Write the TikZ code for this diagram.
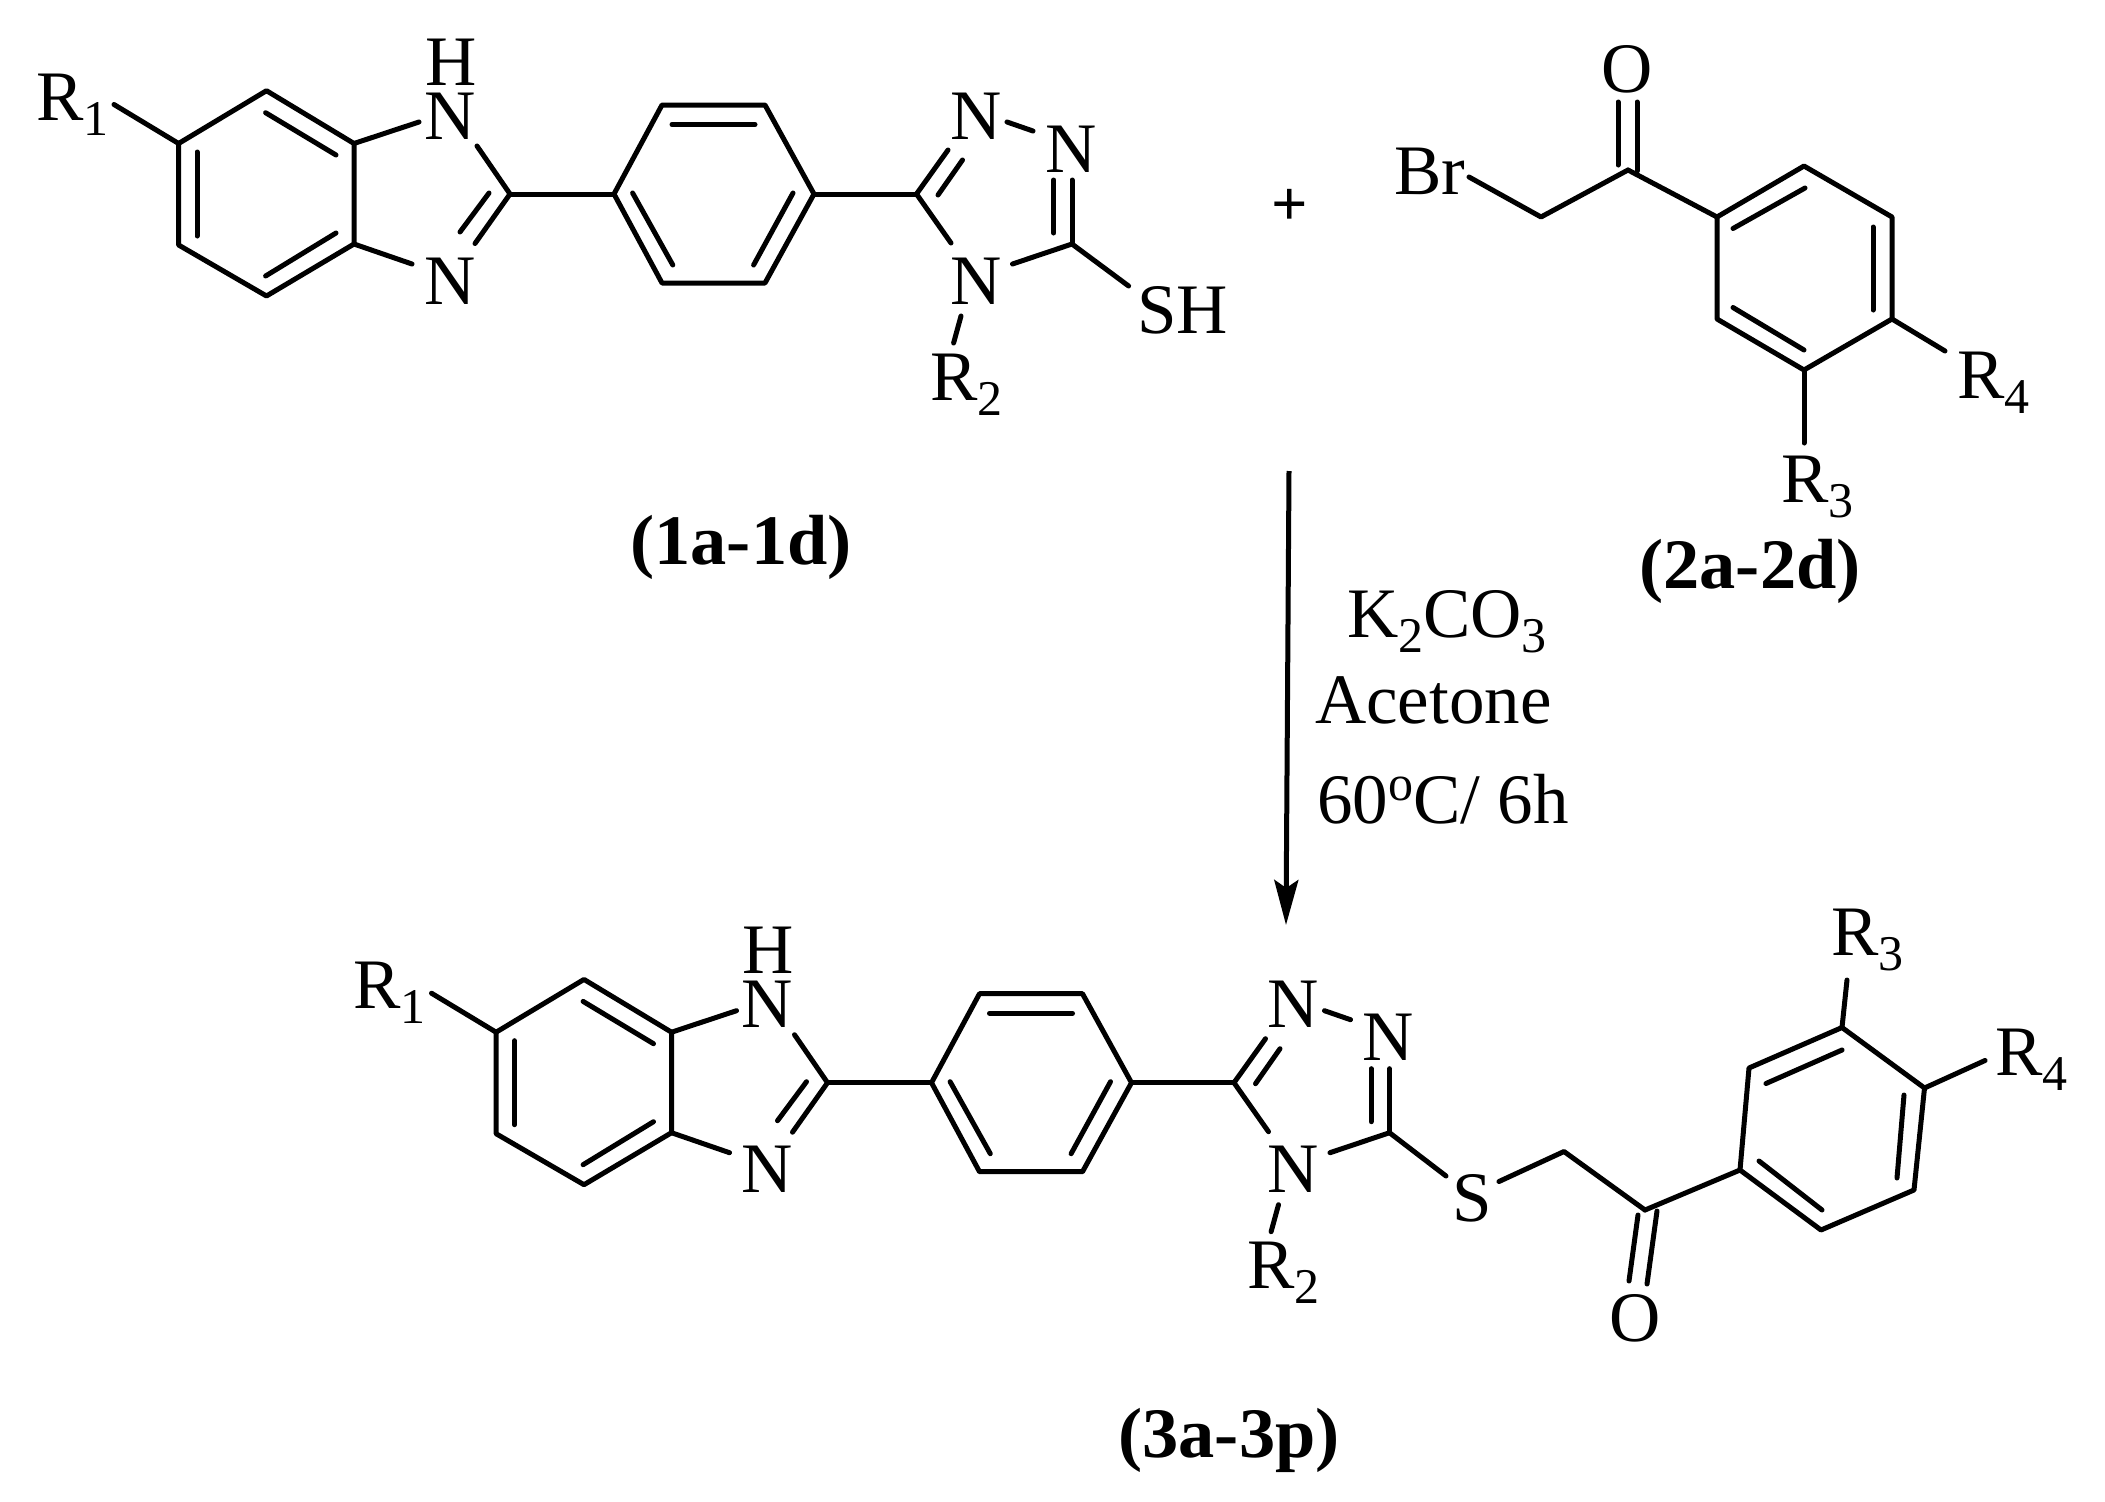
\documentclass[tikz,border=0pt]{standalone}
\usepackage{fontspec}
\setmainfont{Liberation Serif}
\usetikzlibrary{arrows.meta}
\newcommand\mkpt[3]{\coordinate (#1) at (#2,#3);}
\newcommand\bd[2]{\draw[bondline] (#1) -- (#2);}
\newcommand\subtxt[1]{\raisebox{-15pt}{\fontsize{50}{50}\selectfont #1}}
\newcommand\Rsub[1]{R\subtxt{#1}}
\tikzset{
  bondline/.style={line width=5pt,line cap=round,line join=round,black},
  atom/.style={inner sep=0pt,outer sep=0pt,anchor=base,font=\fontsize{71}{80}\selectfont,text=black},
  atomw/.style={atom,anchor=base west},
  cmpd/.style={inner sep=0pt,outer sep=0pt,anchor=base,font=\fontsize{71}{80}\selectfont\bfseries,text=black},
}
% Shared benzimidazole-phenylene-triazole skeleton; #1 is a name prefix
\newcommand\corepart[1]{%
  \mkpt{#1a1}{178.6}{143.5}\mkpt{#1a2}{266.5}{90.7}\mkpt{#1a3}{354}{143.5}
  \mkpt{#1a4}{354}{244}\mkpt{#1a5}{266.5}{296}\mkpt{#1a6}{178.6}{245}
  \draw[bondline] (#1a1)--(#1a2)--(#1a3)--(#1a4)--(#1a5)--(#1a6)--cycle;
  \mkpt{#1i1}{197}{152}\mkpt{#1i2}{197}{236}\bd{#1i1}{#1i2}
  \mkpt{#1i3}{265.6}{112.7}\mkpt{#1i4}{336}{155}\bd{#1i3}{#1i4}
  \mkpt{#1i5}{265.6}{276}\mkpt{#1i6}{336}{233}\bd{#1i5}{#1i6}
  \node[atomw] (#1R1) at (36,120) {\Rsub{1}};
  \mkpt{#1r1e}{114}{104.5}\bd{#1r1e}{#1a1}
  \node[atom] (#1H) at (451,85) {H};
  \node[atom] (#1NH) at (450,139) {N};
  \node[atom] (#1Nb) at (450,304) {N};
  \mkpt{#1e1}{419}{122}\bd{#1a3}{#1e1}
  \mkpt{#1e2}{412}{264}\bd{#1a4}{#1e2}
  \mkpt{#1c2}{510}{194}
  \mkpt{#1e3}{477}{146}\bd{#1e3}{#1c2}
  \mkpt{#1e4}{475}{243.5}\bd{#1e4}{#1c2}
  \mkpt{#1e5}{460}{232}\mkpt{#1e6}{489}{193}\bd{#1e5}{#1e6}
  \mkpt{#1p1}{614}{194}\mkpt{#1p2}{662}{105}\mkpt{#1p3}{765}{105}
  \mkpt{#1p4}{814}{194}\mkpt{#1p5}{765}{283}\mkpt{#1p6}{662}{283}
  \bd{#1c2}{#1p1}
  \draw[bondline] (#1p1)--(#1p2)--(#1p3)--(#1p4)--(#1p5)--(#1p6)--cycle;
  \mkpt{#1j1}{672}{124.5}\mkpt{#1j2}{755}{124.5}\bd{#1j1}{#1j2}
  \mkpt{#1j3}{793}{193}\mkpt{#1j4}{753.6}{265}\bd{#1j3}{#1j4}
  \mkpt{#1j5}{632.6}{193}\mkpt{#1j6}{672.8}{265}\bd{#1j5}{#1j6}
  \mkpt{#1t1}{916.5}{194}\bd{#1p4}{#1t1}
  \node[atom] (#1N1) at (976,139) {N};
  \node[atom] (#1N2) at (1071,172) {N};
  \node[atom] (#1N3) at (976,304) {N};
  \mkpt{#1k1}{948}{150}\bd{#1t1}{#1k1}
  \mkpt{#1k2}{938}{195}\mkpt{#1k3}{962.5}{160}\bd{#1k2}{#1k3}
  \mkpt{#1k4}{1007}{122}\mkpt{#1k5}{1033}{131}\bd{#1k4}{#1k5}
  \mkpt{#1t2}{1072}{244}\mkpt{#1k6}{1072}{180}\bd{#1k6}{#1t2}
  \mkpt{#1k7}{1053.6}{180}\mkpt{#1k8}{1053.6}{233}\bd{#1k7}{#1k8}
  \mkpt{#1k9}{1012.5}{264}\bd{#1t2}{#1k9}
  \mkpt{#1k10}{951}{243}\bd{#1t1}{#1k10}
  \mkpt{#1k11}{961}{316}\mkpt{#1k12}{953.6}{343}\bd{#1k11}{#1k12}
  \node[atomw] (#1R2) at (930,400) {\Rsub{2}};
}
\begin{document}
\begin{tikzpicture}[x=1pt,y=-1pt]
\useasboundingbox (0,0) rectangle (2105,1502);
\fill[white] (0,0) rectangle (2105,1502);

% Compound 1
\corepart{A}
\mkpt{sh}{1128.6}{286}\bd{At2}{sh}
\node[atomw] (SH) at (1137,333) {SH};
\node[cmpd] (lab1) at (741,564) {\scalebox{1.02}[1]{(1a-1d)}};

% plus
\node[inner sep=0pt,font=\fontsize{64}{64}\selectfont\bfseries] (plus) at (1290,207) {+};

% Compound 2
\node[atom] (O2) at (1627,92) {O};
\node[atomw] (Br) at (1394,194) {Br};
\mkpt{co}{1628}{170}
\mkpt{o1}{1618}{102}\mkpt{o1b}{1618}{165}\bd{o1}{o1b}
\mkpt{o2}{1637}{102}\mkpt{o2b}{1637}{171}\bd{o2}{o2b}
\mkpt{ch}{1541}{217}\mkpt{bre}{1469}{177}
\draw[bondline] (bre)--(ch)--(co);
\mkpt{b1}{1717}{217}\mkpt{b2}{1804}{166}\mkpt{b3}{1892}{217}
\mkpt{b4}{1892}{319}\mkpt{b5}{1804}{370}\mkpt{b6}{1717}{319}
\bd{co}{b1}
\draw[bondline] (b1)--(b2)--(b3)--(b4)--(b5)--(b6)--cycle;
\mkpt{bi1}{1733}{228.5}\mkpt{bi2}{1805}{188}\bd{bi1}{bi2}
\mkpt{bi3}{1873}{227}\mkpt{bi4}{1873}{310}\bd{bi3}{bi4}
\mkpt{bi5}{1733}{307.5}\mkpt{bi6}{1804}{350}\bd{bi5}{bi6}
\mkpt{r4e}{1945}{351}\bd{b4}{r4e}
\mkpt{r3e}{1804}{443}\bd{b5}{r3e}
\node[atomw] (R4a) at (1957,398) {\Rsub{4}};
\node[atomw] (R3a) at (1781,502) {\Rsub{3}};
\node[cmpd] (lab2) at (1750,588) {\scalebox{1.02}[1]{(2a-2d)}};

% Reaction arrow
\mkpt{arrtop}{1289}{471}\mkpt{arrtip}{1286}{925}
\draw[line width=5pt,-{Stealth[length=45pt,width=24pt,inset=8pt]}] (arrtop)--(arrtip);
\node[atomw] (reag1) at (1347,637) {K\subtxt{2}CO\subtxt{3}};
\node[atomw] (reag2) at (1315,723) {Acetone};
\node[atomw] (reag3) at (1317,823) {60\raisebox{23pt}{\fontsize{50}{50}\selectfont o}C/ 6h};

% Compound 3
\begin{scope}[shift={(317.5,888.7)}]
\corepart{B}
\end{scope}
\node[atom] (S) at (1472,1221) {S};
\mkpt{s1}{1446}{1176}\bd{Bt2}{s1}
\mkpt{s2}{1499}{1181.5}\mkpt{ch3}{1564}{1151.5}\mkpt{co3}{1645}{1210}
\draw[bondline] (s2)--(ch3)--(co3);
\mkpt{d1}{1657}{1211}\mkpt{d2}{1647}{1284}\bd{d1}{d2}
\mkpt{d3}{1638}{1215}\mkpt{d4}{1629}{1281}\bd{d3}{d4}
\node[atom] (O3) at (1635,1341) {O};
\mkpt{c1}{1740}{1170}\mkpt{c2}{1749}{1068}\mkpt{c3}{1842}{1027.5}
\mkpt{c4}{1924.5}{1088}\mkpt{c5}{1914}{1190}\mkpt{c6}{1821}{1230}
\bd{co3}{c1}
\draw[bondline] (c1)--(c2)--(c3)--(c4)--(c5)--(c6)--cycle;
\mkpt{ci1}{1766}{1083.5}\mkpt{ci2}{1842}{1050}\bd{ci1}{ci2}
\mkpt{ci3}{1904}{1095}\mkpt{ci4}{1897}{1178}\bd{ci3}{ci4}
\mkpt{ci5}{1759}{1161}\mkpt{ci6}{1822}{1210}\bd{ci5}{ci6}
\mkpt{r3f}{1847}{980}\bd{c3}{r3f}
\mkpt{r4f}{1985}{1060.5}\bd{c4}{r4f}
\node[atomw] (R3b) at (1831,955.7) {\Rsub{3}};
\node[atomw] (R4b) at (1995,1075.4) {\Rsub{4}};
\node[cmpd] (lab3) at (1229,1457) {\scalebox{1.02}[1]{(3a-3p)}};
\end{tikzpicture}
\end{document}
